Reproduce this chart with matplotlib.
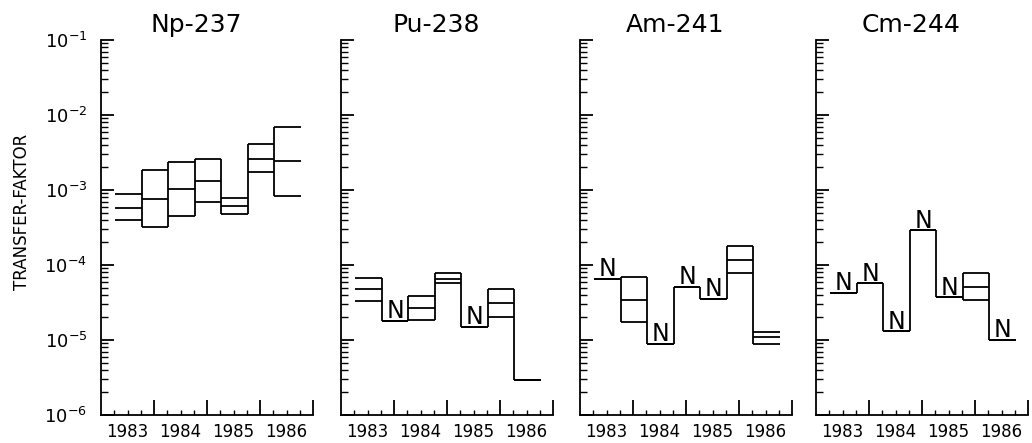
import matplotlib.pyplot as plt
import numpy as np
from matplotlib.ticker import LogLocator, NullFormatter

plt.rcParams['font.family'] = ['DejaVu Sans']
plt.rcParams['mathtext.default'] = 'regular'

# sampling periods (half-years), common to all panels
edges = [1983.27, 1983.77, 1984.27, 1984.77, 1985.27, 1985.77, 1986.27, 1986.77]

isotopes = ['Np-237', 'Pu-238', 'Am-241', 'Cm-244']
years = [1983, 1984, 1985, 1986]

np237_max = [8.9e-4, 1.87e-3, 2.39e-3, 2.57e-3, 7.9e-4, 4.07e-3, 7.0e-3]
np237_mean = [5.8e-4, 7.7e-4, 1.03e-3, 1.32e-3, 6.1e-4, 2.59e-3, 2.44e-3]
np237_min = [4.0e-4, 3.2e-4, 4.5e-4, 6.9e-4, 4.8e-4, 1.72e-3, 8.4e-4]
np237_n = [0, 0, 0, 0, 0, 0, 0]

pu238_max = [6.8e-5, 1.8e-5, 3.9e-5, 7.8e-5, 1.5e-5, 4.8e-5, 2.9e-6]
pu238_mean = [4.8e-5, 1.8e-5, 2.7e-5, 6.6e-5, 1.5e-5, 3.15e-5, 2.9e-6]
pu238_min = [3.3e-5, 1.8e-5, 1.85e-5, 5.7e-5, 1.5e-5, 2.05e-5, 2.9e-6]
pu238_n = [0, 1, 0, 0, 1, 0, 0]

am241_max = [6.6e-5, 6.9e-5, 8.9e-6, 5.1e-5, 3.5e-5, 1.8e-4, 1.27e-5]
am241_mean = [6.6e-5, 3.4e-5, 8.9e-6, 5.1e-5, 3.5e-5, 1.17e-4, 1.09e-5]
am241_min = [6.6e-5, 1.74e-5, 8.9e-6, 5.1e-5, 3.5e-5, 7.9e-5, 8.9e-6]
am241_n = [1, 0, 1, 1, 1, 0, 0]

cm244_max = [4.2e-5, 5.7e-5, 1.3e-5, 2.9e-4, 3.7e-5, 7.9e-5, 1.0e-5]
cm244_mean = [4.2e-5, 5.7e-5, 1.3e-5, 2.9e-4, 3.7e-5, 5.1e-5, 1.0e-5]
cm244_min = [4.2e-5, 5.7e-5, 1.3e-5, 2.9e-4, 3.7e-5, 3.4e-5, 1.0e-5]
cm244_n = [1, 1, 1, 1, 1, 0, 1]

series = [
    (np237_max, np237_mean, np237_min, np237_n),
    (pu238_max, pu238_mean, pu238_min, pu238_n),
    (am241_max, am241_mean, am241_min, am241_n),
    (cm244_max, cm244_mean, cm244_min, cm244_n),
]

W, H = 1032, 443
fig = plt.figure(figsize=(W / 100, H / 100), dpi=100)

lefts = [101, 341, 580, 816]
lw = 1.3
x0 = np.array(edges[:-1])
x1 = np.array(edges[1:])

for k, (name, (hi, mid, lo, nflag)) in enumerate(zip(isotopes, series)):
    ax = fig.add_axes([lefts[k] / W, 28 / H, 212 / W, 375 / H])
    hi, mid, lo = np.array(hi), np.array(mid), np.array(lo)

    ax.hlines(hi, x0, x1, color='k', lw=lw)
    ax.hlines(mid, x0, x1, color='k', lw=lw)
    ax.hlines(lo, x0, x1, color='k', lw=lw)
    # vertical edges between periods span both neighbouring ranges
    ax.vlines(x1[:-1], np.minimum(lo[:-1], lo[1:]), np.maximum(hi[:-1], hi[1:]),
              color='k', lw=lw)

    for i, f in enumerate(nflag):
        if f:
            ax.annotate('N', xy=((x0[i] + x1[i]) / 2, hi[i]), xytext=(0, 2),
                        textcoords='offset points', ha='center', va='baseline',
                        fontsize=17)

    ax.set_yscale('log')
    ax.set_ylim(1e-6, 1e-1)
    ax.set_xlim(1983, 1987)
    ax.spines['top'].set_visible(False)
    ax.spines['right'].set_visible(False)
    ax.spines['left'].set_linewidth(lw)
    ax.spines['bottom'].set_linewidth(lw)

    ax.set_xticks([1984, 1985, 1986, 1987], labels=['', '', '', ''])
    minor_pos = [y + q for y in years for q in (0.25, 0.5, 0.75)]
    minor_lab = [str(y) if q == 0.5 else '' for y in years for q in (0.25, 0.5, 0.75)]
    ax.set_xticks(minor_pos, labels=minor_lab, minor=True)
    ax.tick_params(axis='x', which='major', direction='in', length=11, width=lw)
    ax.tick_params(axis='x', which='minor', direction='in', length=3.5, width=1.0,
                   labelsize=12, pad=6)

    decades = [1e-6, 1e-5, 1e-4, 1e-3, 1e-2, 1e-1]
    ax.set_yticks(decades, labels=[r'$10^{%d}$' % e for e in range(-6, 0)])
    ax.yaxis.set_minor_locator(LogLocator(base=10, subs=np.arange(2, 10), numticks=20))
    ax.yaxis.set_minor_formatter(NullFormatter())
    ax.tick_params(axis='y', which='major', direction='in', length=9, width=lw,
                   labelsize=13, pad=10)
    ax.tick_params(axis='y', which='minor', direction='in', length=5, width=1.0)
    if k > 0:
        ax.tick_params(axis='y', labelleft=False)

    ax.set_title(name, fontsize=18, pad=6, x=0.45)

fig.text(22 / W, 1 - 212 / H, 'TRANSFER-FAKTOR', rotation=90, ha='center',
         va='center', fontsize=12)

fig.savefig('out.png', dpi=100)
